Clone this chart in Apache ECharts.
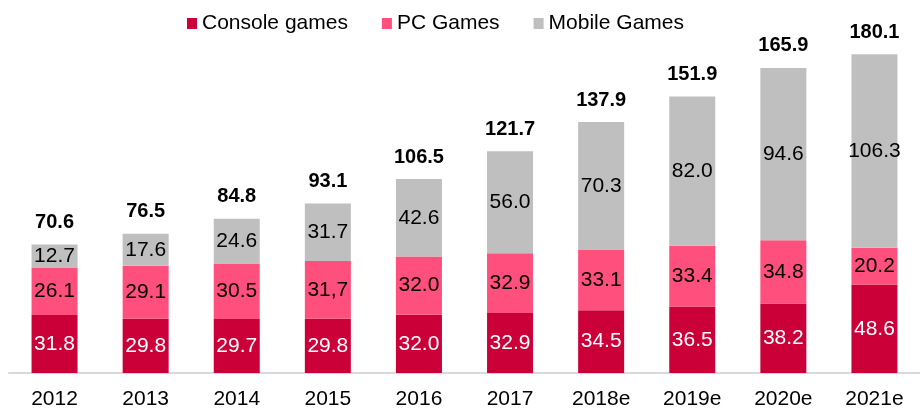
<!DOCTYPE html>
<html>
<head>
<meta charset="utf-8">
<script src="https://cdn.jsdelivr.net/npm/echarts@6/dist/echarts.min.js"></script>
<style>
  html, body { margin: 0; padding: 0; background: #fff; }
  #chart { width: 920px; height: 410px; }
</style>
</head>
<body>
<div id="chart"></div>
<script>
const years = ["2012", "2013", "2014", "2015", "2016", "2017", "2018e", "2019e", "2020e", "2021e"];
const consoleGames = [31.8, 29.8, 29.7, 29.8, 32.0, 32.9, 34.5, 36.5, 38.2, 48.6];
const pcGames = [26.1, 29.1, 30.5, 31.7, 32.0, 32.9, 33.1, 33.4, 34.8, 20.2];
const pcLabels = ["26.1", "29.1", "30.5", "31,7", "32.0", "32.9", "33.1", "33.4", "34.8", "20.2"];
const mobileGames = [12.7, 17.6, 24.6, 31.7, 42.6, 56.0, 70.3, 82.0, 94.6, 106.3];
const totals = ["70.6", "76.5", "84.8", "93.1", "106.5", "121.7", "137.9", "151.9", "165.9", "180.1"];

const font = "Liberation Sans, Arial, sans-serif";
const chart = echarts.init(document.getElementById("chart"));

function segLabel(color, texts) {
  return {
    show: true,
    position: "inside",
    color: color,
    fontFamily: font,
    fontSize: 21,
    formatter: (p) => (texts ? texts[p.dataIndex] : p.value.toFixed(1))
  };
}

chart.setOption({
  animation: false,
  legend: {
    data: ["Console games", "PC Games", "Mobile Games"],
    left: 182,
    top: 8,
    itemWidth: 10,
    itemHeight: 11,
    itemGap: 34,
    icon: "rect",
    textStyle: { fontFamily: font, fontSize: 21, color: "#000" }
  },
  grid: { left: 9, right: -10, top: 9, bottom: 36 },
  xAxis: {
    type: "category",
    data: years,
    axisTick: { show: false },
    axisLine: { lineStyle: { color: "#D9D9D9", width: 2 } },
    axisLabel: { color: "#000", fontFamily: font, fontSize: 21, margin: 16 }
  },
  yAxis: { type: "value", min: 0, max: 200, show: false, splitLine: { show: false } },
  series: [
    {
      name: "Console games", type: "bar", stack: "t", barWidth: 46,
      data: consoleGames, itemStyle: { color: "#CC0039" },
      label: segLabel("#fff")
    },
    {
      name: "PC Games", type: "bar", stack: "t",
      data: pcGames, itemStyle: { color: "#FF4F7C" },
      label: segLabel("#000", pcLabels)
    },
    {
      name: "Mobile Games", type: "bar", stack: "t",
      data: mobileGames, itemStyle: { color: "#BFBFBF" },
      label: segLabel("#000")
    },
    {
      name: "Total", type: "bar", stack: "t",
      data: years.map(() => 0),
      itemStyle: { color: "transparent" },
      label: {
        show: true, position: "top", distance: 12,
        color: "#000", fontFamily: font, fontSize: 20, fontWeight: "bold",
        formatter: (p) => totals[p.dataIndex]
      }
    }
  ]
});
</script>
</body>
</html>
